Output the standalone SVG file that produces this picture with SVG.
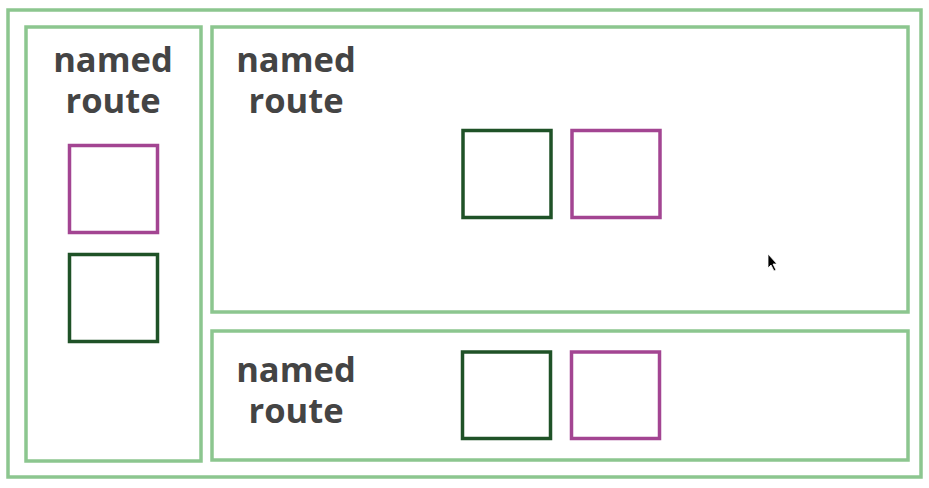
<svg xmlns="http://www.w3.org/2000/svg" width="929" height="488" viewBox="0 0 929 488">
<style>
.panel{fill:none;stroke:#8cc68f;stroke-width:3.5}
.g{fill:none;stroke:#1f5227;stroke-width:3.5}
.m{fill:none;stroke:#a34592;stroke-width:3.5}
.t{font-family:"Open Sans","Noto Sans",sans-serif;font-weight:bold;font-size:34.5px;fill:#444;text-anchor:middle}
</style>
<rect width="929" height="488" fill="#fff"/>
<g id="outer"><rect class="panel" x="8" y="10" width="913" height="467"/></g>
<g id="left-route">
<rect class="panel" x="26" y="27" width="175" height="434"/>
<text class="t" x="113" y="72"><tspan x="113" y="72">named</tspan><tspan x="113" y="113">route</tspan></text>
<rect class="m" x="69.5" y="145.5" width="88" height="87"/>
<rect class="g" x="69.5" y="254.5" width="88" height="87"/>
</g>
<g id="top-route">
<rect class="panel" x="212" y="27" width="696" height="285"/>
<text class="t" x="296" y="72"><tspan x="296" y="72">named</tspan><tspan x="296" y="113">route</tspan></text>
<rect class="g" x="463" y="130.5" width="88" height="87"/>
<rect class="m" x="572" y="130.5" width="88" height="87"/>
</g>
<g id="bottom-route">
<rect class="panel" x="212" y="331" width="696" height="129"/>
<text class="t" x="296" y="382"><tspan x="296" y="382">named</tspan><tspan x="296" y="423">route</tspan></text>
<rect class="g" x="462.5" y="352" width="88" height="86.5"/>
<rect class="m" x="571.5" y="352" width="88" height="86.5"/>
</g>
<g id="connectors"></g>
<path d="M768 254 L768 268 L771 265 L774 271 L776 270 L773 264 L777 264 Z" fill="#000" stroke="#fff" stroke-width="0.8"/>
</svg>
